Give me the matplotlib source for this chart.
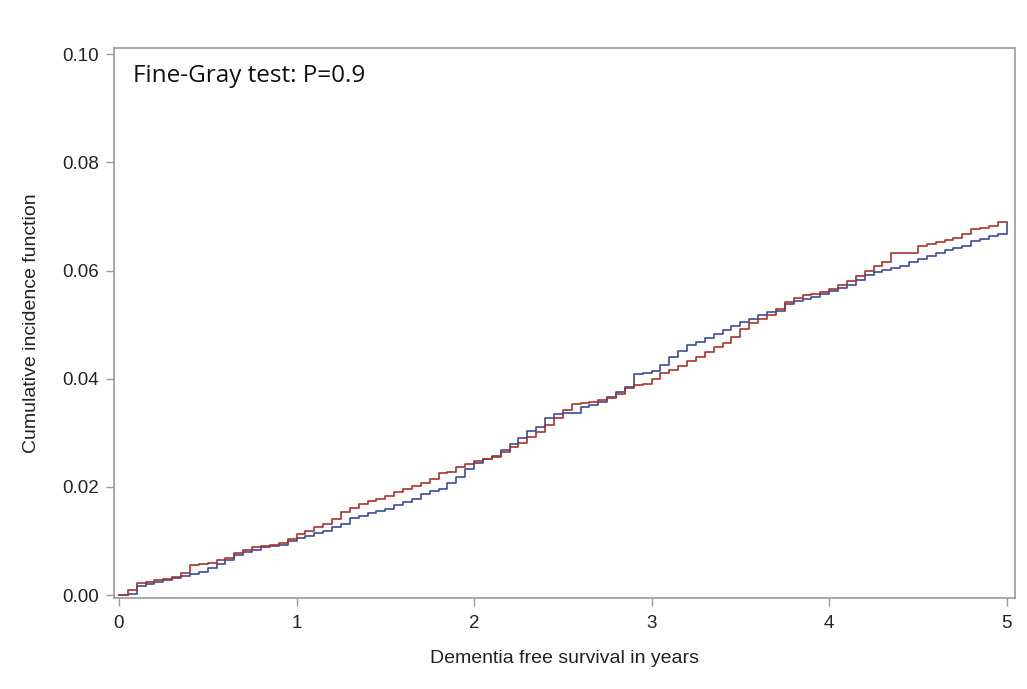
import matplotlib
matplotlib.use("Agg")
import matplotlib.pyplot as plt
import numpy as np

# Time grid (years) at which the curves were read
times = [round(0.05 * i, 2) for i in range(101)]

# Red group cumulative incidence
red_cif = [
    0.0000, 0.0010, 0.0022, 0.0025, 0.0027, 0.0030, 0.0034, 0.0040, 0.0055, 0.0058,
    0.0060, 0.0064, 0.0068, 0.0077, 0.0083, 0.0088, 0.0090, 0.0093, 0.0097, 0.0104,
    0.0112, 0.0119, 0.0125, 0.0131, 0.0140, 0.0153, 0.0161, 0.0168, 0.0174, 0.0177,
    0.0184, 0.0190, 0.0196, 0.0201, 0.0207, 0.0214, 0.0225, 0.0227, 0.0237, 0.0243,
    0.0248, 0.0252, 0.0256, 0.0264, 0.0273, 0.0282, 0.0292, 0.0301, 0.0315, 0.0328,
    0.0342, 0.0354, 0.0355, 0.0357, 0.0361, 0.0365, 0.0372, 0.0382, 0.0389, 0.0391,
    0.0399, 0.0410, 0.0416, 0.0424, 0.0433, 0.0441, 0.0450, 0.0458, 0.0466, 0.0478,
    0.0491, 0.0503, 0.0510, 0.0517, 0.0528, 0.0541, 0.0549, 0.0554, 0.0557, 0.0560,
    0.0565, 0.0574, 0.0581, 0.0590, 0.0600, 0.0608, 0.0615, 0.0632, 0.0632, 0.0633,
    0.0645, 0.0649, 0.0653, 0.0656, 0.0660, 0.0667, 0.0676, 0.0678, 0.0683, 0.0689,
    0.0689,
]

# Blue group cumulative incidence
blue_cif = [
    0.0000, 0.0002, 0.0016, 0.0021, 0.0024, 0.0028, 0.0031, 0.0035, 0.0039, 0.0043,
    0.0050, 0.0058, 0.0065, 0.0074, 0.0080, 0.0084, 0.0089, 0.0091, 0.0093, 0.0100,
    0.0105, 0.0109, 0.0114, 0.0119, 0.0125, 0.0132, 0.0142, 0.0147, 0.0151, 0.0155,
    0.0160, 0.0167, 0.0173, 0.0178, 0.0186, 0.0192, 0.0197, 0.0208, 0.0218, 0.0234,
    0.0245, 0.0252, 0.0258, 0.0268, 0.0280, 0.0290, 0.0303, 0.0311, 0.0327, 0.0335,
    0.0336, 0.0337, 0.0347, 0.0352, 0.0357, 0.0367, 0.0375, 0.0385, 0.0408, 0.0411,
    0.0414, 0.0425, 0.0440, 0.0452, 0.0463, 0.0468, 0.0476, 0.0482, 0.0490, 0.0497,
    0.0505, 0.0510, 0.0517, 0.0523, 0.0526, 0.0538, 0.0544, 0.0547, 0.0551, 0.0557,
    0.0563, 0.0568, 0.0574, 0.0583, 0.0592, 0.0597, 0.0601, 0.0605, 0.0609, 0.0615,
    0.0622, 0.0627, 0.0632, 0.0638, 0.0642, 0.0646, 0.0654, 0.0659, 0.0663, 0.0667,
    0.0688,
]

x_ticks = [0, 1, 2, 3, 4, 5]
y_ticks = [0.00, 0.02, 0.04, 0.06, 0.08, 0.10]
y_tick_labels = ["0.00", "0.02", "0.04", "0.06", "0.08", "0.10"]

fig = plt.figure(figsize=(10.27, 6.89), dpi=100)
ax = fig.add_axes([0.111, 0.132, 0.877, 0.798])

ax.step(times, blue_cif, where="post", color="#3B4A9A", lw=1.2)
ax.step(times, red_cif, where="post", color="#A8322D", lw=1.2)

ax.set_xlim(-0.028, 5.045)
ax.set_ylim(-0.00055, 0.1011)
ax.set_xticks(x_ticks)
ax.set_xticklabels([str(t) for t in x_ticks])
ax.set_yticks(y_ticks)
ax.set_yticklabels(y_tick_labels)

for s in ax.spines.values():
    s.set_color("#9a9a9a")
    s.set_linewidth(1.2)

ax.tick_params(axis="both", direction="out", length=6, width=1.0, color="#9a9a9a",
               labelsize=13.5, labelcolor="#222222")
ax.tick_params(axis="x", pad=6)
ax.tick_params(axis="y", pad=5)
for lab in ax.get_xticklabels() + ax.get_yticklabels():
    lab.set_family("Liberation Sans")

ax.set_xlabel("Dementia free survival in years", fontsize=14, family="Liberation Sans",
              color="#222222", labelpad=13)
ax.set_ylabel("Cumulative incidence function", fontsize=14, family="Liberation Sans",
              color="#222222", labelpad=16)

ax.text(0.021, 0.972, "Fine-Gray test: P=0.9", transform=ax.transAxes,
        fontsize=17.5, family="Open Sans", color="#111111", va="top", ha="left")

fig.savefig("out.png", dpi=100)
